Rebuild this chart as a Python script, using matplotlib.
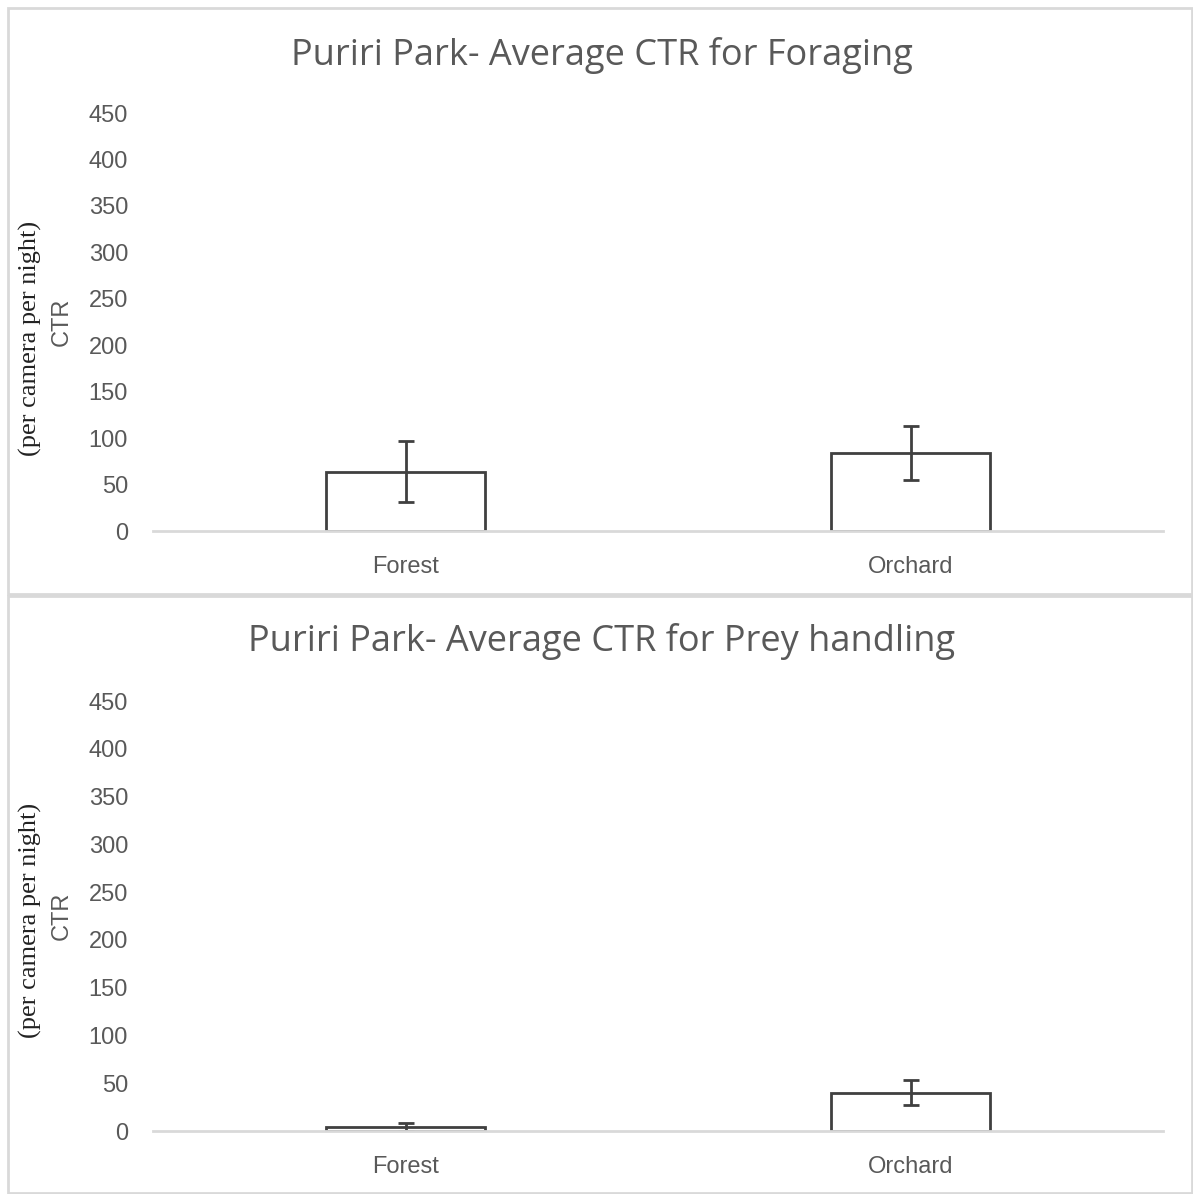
import matplotlib
matplotlib.use("Agg")
import matplotlib.pyplot as plt
from matplotlib.patches import Rectangle

categories = ["Forest", "Orchard"]
foraging_mean = [64, 84]
foraging_err = [33, 29]
prey_mean = [4, 40]
prey_err = [4, 13]
yticks = [0, 50, 100, 150, 200, 250, 300, 350, 400, 450]
titles = ["Puriri Park- Average CTR for Foraging", "Puriri Park- Average CTR for Prey handling"]

W, H = 1193, 1194
fig = plt.figure(figsize=(W / 100, H / 100), dpi=100)
fig.patch.set_facecolor("white")

def fx(px):
    return px / W

def fy(py):
    return 1 - py / H

grey_txt = "#595959"
dark = "#404040"
light = "#d9d9d9"

# panel borders
fig.add_artist(Rectangle((fx(8), fy(594)), fx(1192) - fx(8), fy(8) - fy(594),
                         transform=fig.transFigure, fill=False, edgecolor=light, lw=2))
fig.add_artist(Rectangle((fx(8), fy(1193)), fx(1192) - fx(8), fy(596) - fy(1193),
                         transform=fig.transFigure, fill=False, edgecolor=light, lw=2))

panels = [
    dict(means=foraging_mean, errs=foraging_err, top=113, bottom=531, title_y=55,
         ylab_c=338, ctr_c=322),
    dict(means=prey_mean, errs=prey_err, top=701, bottom=1131, title_y=642,
         ylab_c=920, ctr_c=916),
]

for p, title in zip(panels, titles):
    ax = fig.add_axes([fx(153), fy(p["bottom"]), fx(1163) - fx(153), fy(p["top"]) - fy(p["bottom"])])
    x = list(range(len(categories)))
    ax.bar(x, p["means"], width=0.315, facecolor="white", edgecolor=dark, linewidth=2)
    ax.errorbar(x, p["means"], yerr=p["errs"], fmt="none", ecolor=dark, elinewidth=2,
                capsize=6, capthick=2)
    ax.set_xlim(-0.5, 1.5)
    ax.set_ylim(0, 450)
    ax.set_yticks(yticks)
    ax.set_xticks(x)
    ax.set_xticklabels(categories)
    for s in ["top", "right", "left"]:
        ax.spines[s].set_visible(False)
    ax.spines["bottom"].set_color(light)
    ax.spines["bottom"].set_linewidth(2)
    ax.tick_params(axis="both", length=0, labelcolor=grey_txt, labelsize=17)
    ax.tick_params(axis="y", pad=18)
    ax.tick_params(axis="x", pad=18)
    for lab in ax.get_xticklabels() + ax.get_yticklabels():
        lab.set_fontfamily("Liberation Sans")
    fig.text(fx(602), fy(p["title_y"]), title, ha="center", va="center",
             fontsize=26, color=grey_txt, family="Open Sans")
    fig.text(fx(30), fy(p["ylab_c"]), "(per camera per night)", rotation=90,
             ha="center", va="center", fontsize=19, color="#222222", family="Liberation Serif")
    fig.text(fx(62), fy(p["ctr_c"]), "CTR", rotation=90,
             ha="center", va="center", fontsize=17, color=grey_txt, family="Liberation Sans")

fig.savefig("out.png", dpi=100)
